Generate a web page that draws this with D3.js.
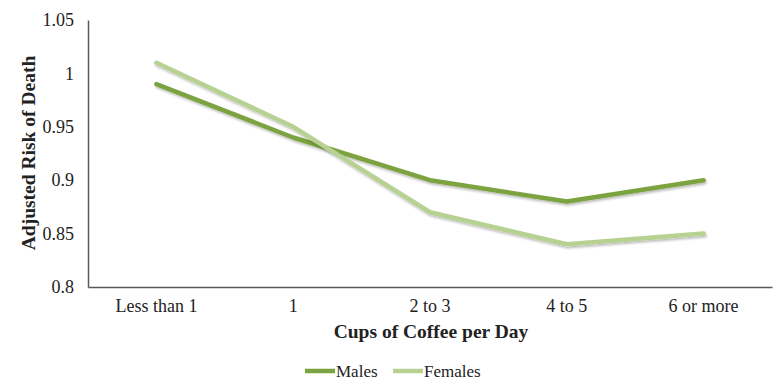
<!DOCTYPE html>
<html>
<head>
<meta charset="utf-8">
<script src="https://cdn.jsdelivr.net/npm/d3@7"></script>
<style>
  body { margin: 0; background: #fff; }
  svg text { font-family: "Liberation Serif", "DejaVu Serif", serif; fill: #222; }
</style>
</head>
<body>
<svg id="chart" width="777" height="386"></svg>
<script>
// data
const categories = ['Less than 1', '1', '2 to 3', '4 to 5', '6 or more'];
const males = [0.99, 0.94, 0.90, 0.88, 0.90];
const females = [1.01, 0.95, 0.87, 0.84, 0.85];
const yTicks = [0.8, 0.85, 0.9, 0.95, 1, 1.05];

const series = [
  { name: 'Males', values: males, color: '#7ba33f' },
  { name: 'Females', values: females, color: '#b6d192' }
];

const svg = d3.select('#chart');
const plotLeft = 88, plotRight = 772, plotTop = 20, plotBottom = 287;

const x = d3.scaleBand().domain(categories).range([plotLeft, plotRight]);
const y = d3.scaleLinear().domain([0.8, 1.05]).range([plotBottom, plotTop]);

// soft drop shadow like the original
const defs = svg.append('defs');
const f = defs.append('filter').attr('id', 'shadow').attr('x', '-10%').attr('y', '-20%').attr('width', '120%').attr('height', '160%');
f.append('feDropShadow').attr('dx', 1).attr('dy', 2).attr('stdDeviation', 1.2).attr('flood-color', '#000').attr('flood-opacity', 0.25);

// axes
const yAxis = svg.append('g')
  .attr('transform', `translate(${plotLeft},0)`)
  .call(d3.axisLeft(y).tickValues(yTicks).tickSize(0).tickPadding(14).tickFormat(d => String(+d.toFixed(2))));
yAxis.select('.domain').attr('stroke', '#595959').attr('stroke-width', 1.5);
yAxis.selectAll('text').style('font-size', '18px');

const xAxis = svg.append('g')
  .attr('transform', `translate(0,${plotBottom})`)
  .call(d3.axisBottom(x).tickSize(0).tickPadding(12));
xAxis.select('.domain').attr('stroke', '#595959').attr('stroke-width', 1.5);
xAxis.selectAll('text').style('font-size', '18px');
svg.selectAll('g').attr('font-family', null);

// lines
const line = d3.line()
  .x((d, i) => x(categories[i]) + x.bandwidth() / 2)
  .y(d => y(d));

svg.selectAll('.series')
  .data(series)
  .enter()
  .append('path')
  .attr('class', 'series')
  .attr('d', d => line(d.values))
  .attr('fill', 'none')
  .attr('stroke', d => d.color)
  .attr('stroke-width', 4.5)
  .attr('stroke-linecap', 'round')
  .attr('stroke-linejoin', 'round')
  .attr('filter', 'url(#shadow)');

// axis titles
svg.append('text')
  .attr('x', 431).attr('y', 338)
  .attr('text-anchor', 'middle')
  .style('font-size', '19.5px').style('font-weight', 'bold')
  .text('Cups of Coffee per Day');

svg.append('text')
  .attr('transform', 'translate(35,153) rotate(-90)')
  .attr('text-anchor', 'middle')
  .style('font-size', '19.5px').style('font-weight', 'bold')
  .text('Adjusted Risk of Death');

// legend
const legend = svg.append('g').attr('transform', 'translate(305,371)');
const item = legend.selectAll('g')
  .data(series)
  .enter()
  .append('g')
  .attr('transform', (d, i) => `translate(${i * 88},0)`);
item.append('line')
  .attr('x1', 0).attr('x2', 30)
  .attr('stroke', d => d.color)
  .attr('stroke-width', 4.5);
item.append('text')
  .attr('x', 31).attr('y', 6)
  .style('font-size', '17px')
  .text(d => d.name);
</script>
</body>
</html>
